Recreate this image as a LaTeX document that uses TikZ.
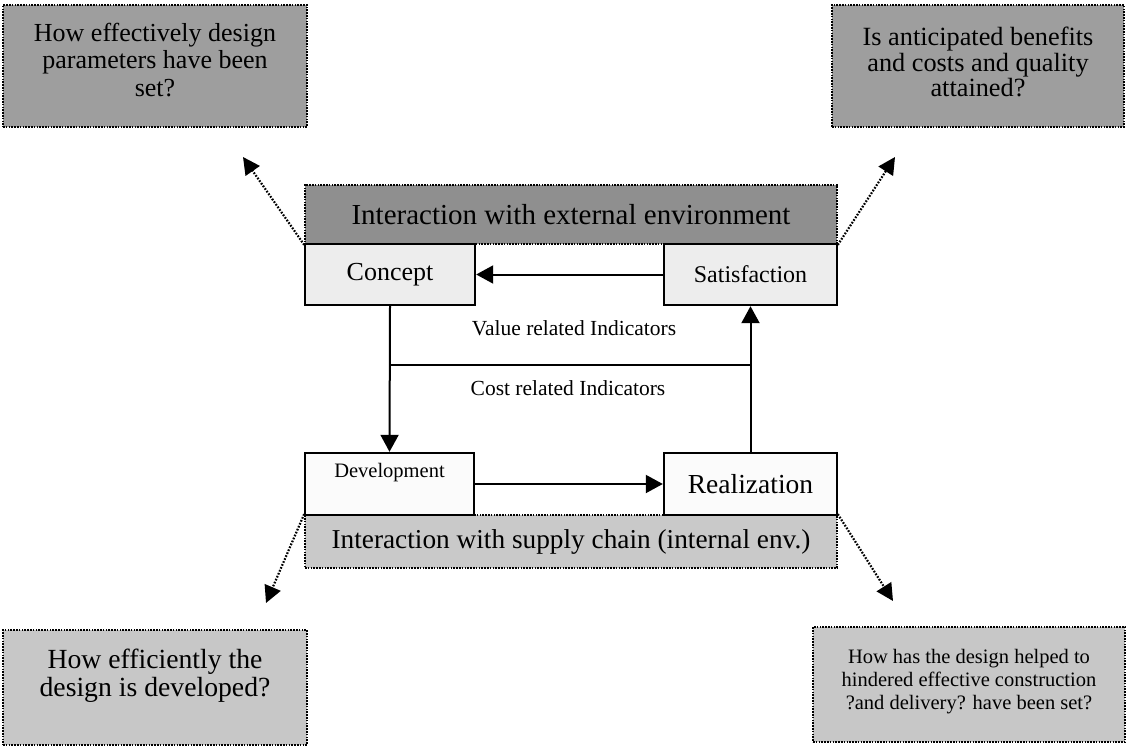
\documentclass[tikz,border=0pt]{standalone}
\usepackage{fontspec}
\setmainfont{Liberation Serif}
\usetikzlibrary{arrows.meta}

\definecolor{qdark}{gray}{0.62}
\definecolor{qlight}{gray}{0.78}
\definecolor{bandext}{gray}{0.56}
\definecolor{bandint}{gray}{0.79}
\definecolor{stagetop}{gray}{0.93}
\definecolor{stagelow}{gray}{0.985}

\tikzset{
  dotframe/.style={draw=black, line width=1.7pt, dash pattern={on 1.6pt off 1.2pt},
                   inner sep=0pt, align=center},
  question/.style={dotframe, minimum width=#1},
  band/.style={dotframe, minimum width=532pt},
  stage/.style={draw=black, line width=2.4pt, inner sep=0pt, minimum height=61pt},
  flow/.style={line width=2pt, -{Triangle[length=17pt, width=18pt]}},
  plainline/.style={line width=2pt},
  hint/.style={line width=2.2pt, dash pattern={on 1.7pt off 1.5pt},
               -{Triangle[length=17pt, width=17pt]}},
  indicator/.style={font=\fontsize{21.5}{24}\selectfont}
}

\begin{document}
\begin{tikzpicture}[x=1pt, y=-1pt]
\useasboundingbox (0,0) rectangle (1129,751);
\fill[white] (0,0) rectangle (1129,751);

% guiding questions in the four corners
\node[question=304pt, minimum height=122pt, fill=qdark,
      label={[name=q1text, yshift=6pt, align=center,
              font=\fontsize{26}{27.5}\selectfont]center:How effectively design\\parameters have been\\set?}]
  (q1) at (155,66) {};
\node[question=292pt, minimum height=122pt, fill=qdark,
      label={[name=q2text, yshift=4pt, align=center,
              font=\fontsize{26.3}{25.5}\selectfont]center:Is anticipated benefits\\and costs and quality\\attained?}]
  (q2) at (978,66) {};
\node[question=304pt, minimum height=115pt, fill=qlight,
      label={[name=q3text, yshift=12pt, align=center,
              font=\fontsize{27.7}{28}\selectfont]center:How efficiently the\\design is developed?}]
  (q3) at (155,687.5) {};
\node[question=312pt, minimum height=115pt, fill=qlight,
      label={[name=q4text, yshift=3pt, align=center,
              font=\fontsize{20.5}{23}\selectfont]center:How has the design helped to\\hindered effective construction\\?and delivery? have been set?}]
  (q4) at (969,684.5) {};

% environment bands
\node[band, minimum height=59pt, fill=bandext,
      font=\fontsize{29}{32}\selectfont] (ext) at (571,214.5)
  {Interaction with external environment};
\node[band, minimum height=53pt, fill=bandint,
      font=\fontsize{27.3}{30}\selectfont] (int) at (571,541.5)
  {Interaction with supply chain (internal env.)};

% the four stages
\node[stage, minimum width=170pt, fill=stagetop,
      font=\fontsize{26}{30}\selectfont] (concept) at (390,274.5) {Concept};
\node[stage, minimum width=173pt, fill=stagetop,
      font=\fontsize{24}{28}\selectfont] (satis) at (750.5,274.5) {Satisfaction};
\node[stage, minimum width=169pt, minimum height=62pt, fill=stagelow,
      label={[name=develtext, yshift=11pt, font=\fontsize{20.5}{24}\selectfont]center:Development}]
  (devel) at (389.5,484) {};
\node[stage, minimum width=173pt, minimum height=62pt, fill=stagelow,
      font=\fontsize{27.5}{30}\selectfont] (real) at (750.5,484) {Realization};

% indicator labels
\node[indicator] (value) at (574,328) {Value related Indicators};
\node[indicator] (cost) at (568,388) {Cost related Indicators};

% cycle of stages
\draw[flow] (satis.west) -- (concept.east);
\draw[flow] (concept.south) -- (devel.north);
\draw[flow] (devel.east) -- (real.west);
\draw[flow] (real.north) -- (satis.south);
\coordinate (divide) at (0,365);
\draw[plainline] (concept.south |- divide) -- (satis.south |- divide);

% links from the bands to the questions
\coordinate (tipq1) at (243,157);
\coordinate (tipq2) at (895,157);
\coordinate (tipq3) at (266,603);
\coordinate (tipq4) at (893,601);
\draw[hint] (ext.south west) -- (tipq1);
\draw[hint] (ext.south east) -- (tipq2);
\draw[hint] (int.north west) -- (tipq3);
\draw[hint] (int.north east) -- (tipq4);
\end{tikzpicture}
\end{document}
